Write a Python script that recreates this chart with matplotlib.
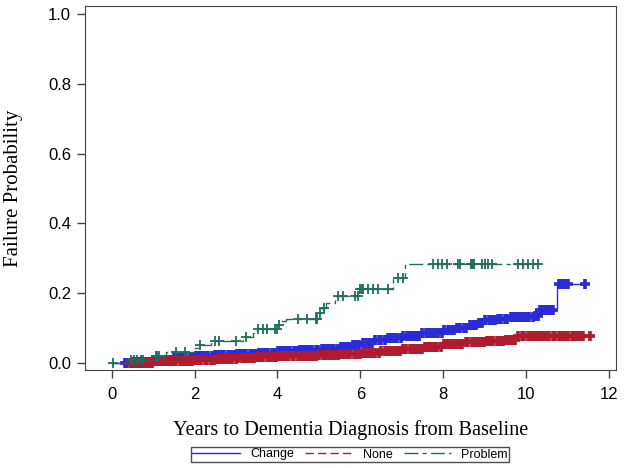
import numpy as np
import matplotlib.pyplot as plt
from matplotlib.lines import Line2D

# cumulative failure (step points) per group
change_t = [0, 0.5, 1.0, 1.5, 2.0, 2.5, 3.0, 3.5, 4.0, 4.5, 5.0, 5.5, 5.8, 6.0, 6.3, 6.6,
            7.0, 7.5, 8.0, 8.3, 8.6, 8.8, 9.0, 9.3, 9.6, 10.2, 10.3, 10.75, 11.42]
change_f = [0, 0.003, 0.008, 0.012, 0.018, 0.022, 0.026, 0.029, 0.033, 0.036, 0.040, 0.044,
            0.050, 0.056, 0.065, 0.071, 0.077, 0.085, 0.093, 0.100, 0.108, 0.115, 0.121,
            0.125, 0.130, 0.133, 0.152, 0.226, 0.226]

none_t = [0.45, 1.0, 1.5, 2.0, 2.5, 3.0, 3.5, 4.0, 4.5, 5.0, 5.5, 6.0, 6.5, 7.0, 7.5, 8.0,
          8.5, 9.0, 9.5, 9.8, 11.55]
none_f = [0, 0.004, 0.006, 0.009, 0.011, 0.013, 0.015, 0.018, 0.019, 0.021, 0.024, 0.028,
          0.033, 0.039, 0.046, 0.053, 0.058, 0.063, 0.066, 0.076, 0.076]

prob_t = [0, 0.45, 0.95, 1.3, 2.02, 2.1, 2.4, 3.17, 3.42, 3.5, 4.02, 4.07, 4.2, 4.98, 5.07,
          5.16, 5.4, 5.98, 6.8, 7.08, 10.34]
prob_f = [0, 0.008, 0.02, 0.03, 0.042, 0.052, 0.062, 0.073, 0.085, 0.097, 0.108, 0.12,
          0.125, 0.142, 0.157, 0.172, 0.19, 0.21, 0.242, 0.283, 0.283]

# censoring times
change_cens = [0.31, 0.38, 0.46, 0.52, 0.61, 0.67, 0.74, 0.83, 0.9, 0.97,
               1.05, 1.12, 1.2, 1.27, 1.36, 1.42, 1.5, 1.58, 1.65, 1.73, 1.8, 1.88, 1.96,
               2.03, 2.11, 2.18, 2.26, 2.33, 2.41, 2.5, 2.57, 2.64, 2.72, 2.8, 2.87, 2.95,
               3.02, 3.1, 3.17, 3.25, 3.33, 3.4, 3.48, 3.55, 3.63, 3.71, 3.78, 3.86, 3.93,
               4.01, 4.08, 4.16, 4.24, 4.31, 4.39, 4.46, 4.54, 4.62, 4.69, 4.77, 4.84, 4.92, 4.99,
               5.07, 5.15, 5.22, 5.3, 5.37, 5.45, 5.53, 5.6, 5.68, 5.75, 5.83, 5.9, 5.98,
               6.06, 6.13, 6.21, 6.28, 6.36, 6.44, 6.51, 6.59, 6.66, 6.74, 6.82, 6.89, 6.97,
               7.04, 7.12, 7.2, 7.27, 7.35, 7.42, 7.5, 7.58, 7.65, 7.73, 7.8, 7.88, 7.96,
               8.03, 8.11, 8.18, 8.26, 8.34, 8.41, 8.49, 8.56, 8.64, 8.72, 8.79, 8.87, 8.94,
               9.02, 9.1, 9.17, 9.25, 9.32, 9.4, 9.48, 9.55, 9.63, 9.7, 9.78, 9.86, 9.93,
               10.01, 10.08, 10.16, 10.22, 10.28, 10.33, 10.39, 10.45, 10.52, 10.58, 10.64,
               10.8, 10.87, 10.93, 11.0, 11.42]
none_cens = [0.47, 0.53, 0.6, 0.68, 0.75, 0.82, 0.9, 0.97,
             1.04, 1.11, 1.19, 1.26, 1.34, 1.41, 1.49, 1.56, 1.64, 1.71, 1.79, 1.86, 1.94,
             2.01, 2.09, 2.16, 2.24, 2.31, 2.39, 2.46, 2.54, 2.61, 2.69, 2.76, 2.84, 2.91, 2.99,
             3.06, 3.14, 3.21, 3.29, 3.36, 3.44, 3.51, 3.59, 3.66, 3.74, 3.81, 3.89, 3.96,
             4.04, 4.11, 4.19, 4.26, 4.34, 4.41, 4.49, 4.56, 4.64, 4.71, 4.79, 4.86, 4.94,
             5.01, 5.09, 5.16, 5.24, 5.31, 5.39, 5.46, 5.54, 5.61, 5.69, 5.76, 5.84, 5.91, 5.99,
             6.06, 6.14, 6.21, 6.29, 6.36, 6.44, 6.51, 6.59, 6.66, 6.74, 6.81, 6.89, 6.96,
             7.04, 7.11, 7.19, 7.26, 7.34, 7.41, 7.49, 7.56, 7.64, 7.71, 7.79, 7.86, 7.94,
             8.01, 8.09, 8.16, 8.24, 8.31, 8.39, 8.46, 8.54, 8.61, 8.69, 8.76, 8.84, 8.91, 8.99,
             9.06, 9.14, 9.21, 9.29, 9.36, 9.44, 9.51, 9.59, 9.66, 9.74, 9.81, 9.89, 9.96,
             10.04, 10.11, 10.19, 10.26, 10.34, 10.41, 10.49, 10.56, 10.64, 10.71, 10.79,
             10.86, 10.94, 11.01, 11.1, 11.16, 11.22, 11.3, 11.38, 11.54]
prob_cens = [0.02, 0.47, 0.55, 0.62, 0.7, 0.75, 1.06, 1.1, 1.13, 1.54, 1.78, 2.12, 2.5, 2.58,
             2.99, 3.23, 3.54, 3.64, 3.76, 3.95, 3.99, 4.03, 4.5, 4.72, 4.92, 4.96, 5.03,
             5.12, 5.47, 5.57, 5.88, 5.95, 6.0, 6.03, 6.06, 6.19, 6.31, 6.43, 6.67, 6.92,
             7.04, 7.76, 7.88, 7.98, 8.1, 8.36, 8.41, 8.68, 8.7, 8.72, 8.74, 8.94, 9.01,
             9.08, 9.18, 9.8, 9.93, 10.05, 10.17, 10.29]

labels = ['Change', 'None', 'Problem']
colors = ['#2a2ad8', '#b01a2c', '#1d6e5e']
styles = ['-', (0, (6, 3)), (0, (10, 3, 3, 3))]
mews = [2.6, 2.6, 1.3]

plt.rcParams['font.family'] = 'Liberation Sans'
fig = plt.figure(figsize=(6.24, 4.68), dpi=100)
ax = fig.add_axes([85 / 624, 1 - 370 / 468, 531 / 624, 364.3 / 468])

groups = [(change_t, change_f, change_cens), (none_t, none_f, none_cens), (prob_t, prob_f, prob_cens)]
for (t, f, c), col, ls, mw in zip(groups, colors, styles, mews):
    ax.plot(t, f, drawstyle='steps-post', color=col, lw=1, linestyle=ls)
    t = np.array(t)
    idx = np.searchsorted(t, c, side='right') - 1
    ax.plot(c, np.array(f)[idx], linestyle='none', marker='+', ms=7.5, mew=mw, color=col)

ax.set_xlim(-0.644, 12.17)
ax.set_ylim(-0.021, 1.024)
ax.set_xticks(range(0, 13, 2))
ax.set_yticks([0, 0.2, 0.4, 0.6, 0.8, 1.0])
ax.set_yticklabels(['0.0', '0.2', '0.4', '0.6', '0.8', '1.0'])
ax.tick_params(labelsize=12, length=6, width=1, direction='out', colors='#444444',
               labelcolor='black')
ax.tick_params(axis='x', pad=6)
ax.tick_params(axis='y', pad=4)
for s in ax.spines.values():
    s.set_color('#444444')

ax.set_ylabel('Failure Probability', fontfamily='Liberation Serif', fontsize=15)
ax.yaxis.set_label_coords(-0.117, 0.5)
ax.set_xlabel('Years to Dementia Diagnosis from Baseline', fontfamily='Liberation Serif',
              fontsize=14.6, labelpad=13)

handles = [Line2D([], [], color=col, lw=1, linestyle=ls) for col, ls in zip(colors, styles)]
leg = fig.legend(handles, labels, loc='center', bbox_to_anchor=(350 / 624, 1 - 454.5 / 468),
                 ncol=3, fontsize=9, frameon=True, fancybox=False, handlelength=3.8,
                 borderpad=0.15, columnspacing=0.9, handletextpad=0.8, borderaxespad=0)
leg.get_frame().set_edgecolor('#222222')
leg.get_frame().set_linewidth(1)

fig.savefig('out.png', dpi=100)
